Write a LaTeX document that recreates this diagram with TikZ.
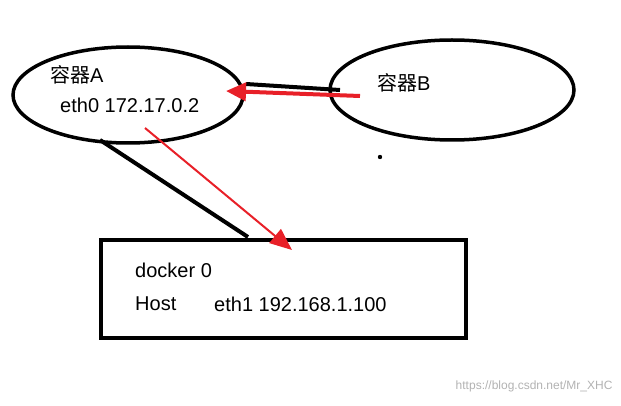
\documentclass[tikz,border=0pt]{standalone}
\usepackage{fontspec}
\setmainfont{Liberation Sans}
\newfontfamily\cjk{Noto Sans CJK SC}
\usetikzlibrary{shapes.geometric,arrows.meta}
\definecolor{ared}{RGB}{232,32,40}
\begin{document}
\begin{tikzpicture}[x=1pt,y=-1pt,
  lbl/.style={anchor=west,inner sep=0pt,font=\fontsize{20}{24}\selectfont}]
\useasboundingbox (0,0) rectangle (621,406);
\node[ellipse,draw,line width=3.5pt,minimum width=230,minimum height=96] (A) at (128,95) {};
\node[ellipse,draw,line width=3.5pt,minimum width=244,minimum height=100] (B) at (452,90) {};
\node[draw,line width=3.5pt,minimum width=365,minimum height=98] (H) at (283.5,289) {};
\node[lbl] (ta) at (50,75) {{\cjk 容器}A};
\node[lbl] (te) at (60,105) {eth0 172.17.0.2};
\node[lbl] (tb) at (377,83) {{\cjk 容器}B};
\node[lbl] (td) at (135,270) {docker 0};
\node (th0) [lbl] at (135,304) {Host};
\node (th) [lbl] at (214,304) {eth1 192.168.1.100};
\node[anchor=east,text=gray!60,font=\fontsize{12}{14}\selectfont] (w) at (616,386) {https://blog.csdn.net/Mr\_XHC};
\coordinate (b1) at (246,84); \coordinate (b2) at (340,90);
\draw[line width=4pt] (b1) -- (b2);
\coordinate (r1) at (360,96); \coordinate (r2) at (226,91);
\draw[ared,line width=4pt,-{Triangle[length=20pt,width=18pt]}] (r1) -- (r2);
\coordinate (c1) at (100,140); \coordinate (c2) at (248,237);
\draw[line width=4pt] (c1) -- (c2);
\coordinate (d1) at (145,128); \coordinate (d2) at (292,250);
\draw[ared,line width=2pt,-{Triangle[length=22pt,width=18pt]}] (d1) -- (d2);
\fill (380,157) circle (2.2pt);
\end{tikzpicture}
\end{document}
